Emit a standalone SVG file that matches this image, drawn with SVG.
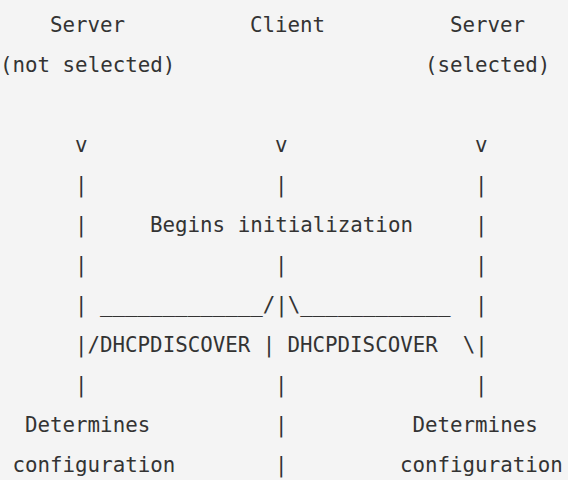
<svg xmlns="http://www.w3.org/2000/svg" width="568" height="480" viewBox="0 0 568 480">
  <style>
    text { font-family: "DejaVu Sans Mono", "Liberation Mono", monospace; font-size: 20.8px; fill: #333333; white-space: pre; }
  </style>
  <rect x="0" y="0" width="568" height="480" fill="#f4f4f4"/>
  <g id="server-not-selected">
    <text x="50" y="32">Server</text>
    <text x="0" y="72">(not selected)</text>
    <text x="25" y="432">Determines</text>
    <text x="12.5" y="472">configuration</text>
  </g>
  <g id="client">
    <text x="250" y="32">Client</text>
    <text x="150" y="232">Begins initialization</text>
  </g>
  <g id="server-selected">
    <text x="450" y="32">Server</text>
    <text x="425" y="72">(selected)</text>
    <text x="412.5" y="432">Determines</text>
    <text x="400" y="472">configuration</text>
  </g>
  <g id="connectors">
    <text x="75" y="152">v</text><text x="275" y="152">v</text><text x="475" y="152">v</text>
    <text x="75" y="192">|</text><text x="275" y="192">|</text><text x="475" y="192">|</text>
    <text x="75" y="232">|</text><text x="475" y="232">|</text>
    <text x="75" y="272">|</text><text x="275" y="272">|</text><text x="475" y="272">|</text>
    <text x="75" y="312">|</text><text x="100" y="312">_____________/|\____________</text><text x="475" y="312">|</text>
    <text x="75" y="352" xml:space="preserve">|/DHCPDISCOVER |</text><text x="287.5" y="352" xml:space="preserve">DHCPDISCOVER  \|</text>
    <text x="75" y="392">|</text><text x="275" y="392">|</text><text x="475" y="392">|</text>
    <text x="275" y="432">|</text>
    <text x="275" y="472">|</text>
  </g>
</svg>
